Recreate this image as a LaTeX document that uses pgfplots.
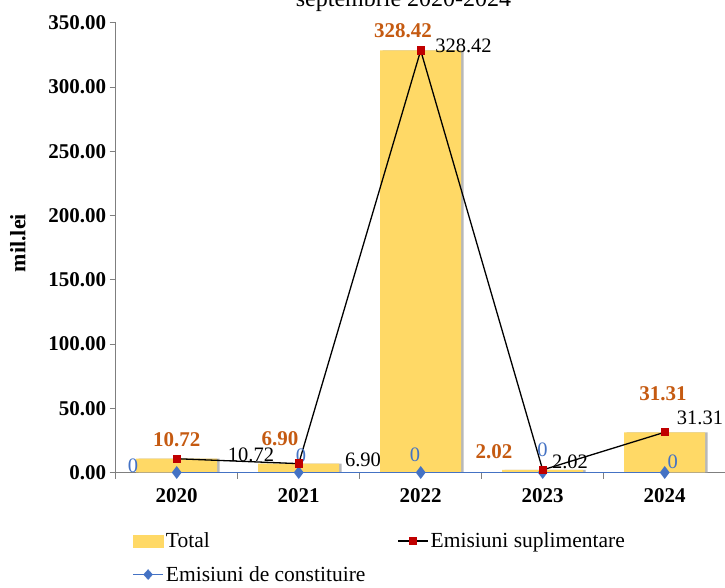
\documentclass[border=0pt]{standalone}
\usepackage{fontspec}
\setmainfont{Liberation Serif}
\usepackage{pgfplots}
\pgfplotsset{compat=1.18}
\definecolor{barfill}{HTML}{FFD966}
\definecolor{lblorange}{HTML}{C55A11}
\definecolor{suplred}{HTML}{C00000}
\definecolor{constblue}{HTML}{4472C4}
\definecolor{axgray}{HTML}{7F7F7F}
\tikzset{
  totlbl/.style={font=\fontsize{21}{25}\selectfont\bfseries, text=lblorange, inner sep=0pt},
  suplbl/.style={font=\fontsize{20.5}{24}\selectfont, text=black, inner sep=0pt},
  conlbl/.style={font=\fontsize{20.5}{24}\selectfont, text=constblue, inner sep=0pt},
}
\begin{document}
\begin{tikzpicture}
\useasboundingbox (-115.7pt,-115.5pt) rectangle (609.3pt,472.5pt);
\clip (-115.7pt,-115.5pt) rectangle (609.3pt,472.5pt);
\begin{axis}[
  at={(0pt,0pt)}, anchor=south west,
  width=610pt, height=449.8pt, scale only axis,
  xmin=-0.5, xmax=4.5, ymin=0, ymax=350,
  clip=false,
  axis x line*=bottom, axis y line*=left,
  axis line style={axgray, line width=0.8pt},
  xtick={0,...,4}, xticklabels={2020,2021,2022,2023,2024},
  major x tick style={draw=none},
  minor xtick={-0.5,0.5,1.5,2.5,3.5,4.5},
  ytick={0,50,...,350},
  tick align=outside,
  major tick length=6pt, minor tick length=6pt,
  tick style={axgray, line width=0.8pt},
  tick label style={font=\fontsize{21}{25}\selectfont\bfseries},
  yticklabel style={/pgf/number format/.cd, fixed, fixed zerofill, precision=2, assume math mode=true},
  xticklabel style={yshift=-7pt},
  ylabel={mil.lei},
  every axis y label/.style={at={(axis description cs:-0.1602,0.51)}, rotate=90, anchor=center,
    font=\fontsize{22}{26}\selectfont\bfseries},
  legend columns=2,
  legend cell align=left,
  legend style={draw=none, fill=none, at={(axis description cs:0.0218,-0.125)}, anchor=north west,
    font=\fontsize{21.5}{26}\selectfont, row sep=13pt,
    /tikz/every even column/.append style={column sep=30pt}},
]
% bar shadow
\addplot[ybar, bar width=81pt, bar shift=2.5pt, fill=black!28, draw=none, forget plot]
  coordinates {(0,10.72) (1,6.90) (2,328.42) (3,2.02) (4,31.31)};
% Total
\addplot[ybar, bar width=81pt, bar shift=0pt, fill=barfill, draw=none, forget plot]
  coordinates {(0,10.72) (1,6.90) (2,328.42) (3,2.02) (4,31.31)};
% Emisiuni de constituire
\addplot[constblue, line width=1.8pt, mark=diamond*, mark size=5pt,
  mark options={fill=constblue, draw=constblue}, forget plot]
  coordinates {(0,0) (1,0) (2,0) (3,0) (4,0)};
% Emisiuni suplimentare
\addplot[black, line width=1.3pt, mark=square*, mark size=3.5pt,
  mark options={fill=suplred, draw=suplred}, forget plot]
  coordinates {(0,10.72) (1,6.90) (2,328.42) (3,2.02) (4,31.31)};

\addlegendimage{legend image code/.code={\fill[barfill] (0pt,-6pt) rectangle (30pt,6pt);}}
\addlegendentry{Total}
\addlegendimage{legend image code/.code={
  \draw[black, line width=1.3pt] (0pt,0pt) -- (30pt,0pt);
  \fill[suplred] (11.5pt,-3.5pt) rectangle (18.5pt,3.5pt);}}
\addlegendentry{Emisiuni suplimentare}
\addlegendimage{legend image code/.code={
  \draw[constblue, line width=1.8pt] (0pt,0pt) -- (30pt,0pt);
  \fill[constblue] (15pt,-5pt) -- (19.5pt,0pt) -- (15pt,5pt) -- (10.5pt,0pt) -- cycle;}}
\addlegendentry{Emisiuni de constituire}

% data labels: Total
\node[totlbl] at (axis cs:0.000,25.5) {10.72};
\node[totlbl] at (axis cs:0.847,26.5) {6.90};
\node[totlbl] at (axis cs:1.855,344.0) {328.42};
\node[totlbl] at (axis cs:2.601,16.0) {2.02};
\node[totlbl] at (axis cs:3.986,61.5) {31.31};
% data labels: Emisiuni suplimentare
\node[suplbl] at (axis cs:0.609,13.6) {10.72};
\node[suplbl] at (axis cs:1.527,9.7) {6.90};
\node[suplbl] at (axis cs:2.351,331.9) {328.42};
\node[suplbl] at (axis cs:3.224,8.2) {2.02};
\node[suplbl] at (axis cs:4.289,42.8) {31.31};
% data labels: Emisiuni de constituire
\node[conlbl] at (axis cs:-0.358,5.1) {0};
\node[conlbl] at (axis cs:1.019,12.8) {0};
\node[conlbl] at (axis cs:1.953,13.6) {0};
\node[conlbl] at (axis cs:2.999,17.5) {0};
\node[conlbl] at (axis cs:4.066,8.6) {0};
\end{axis}
\node[anchor=base, font=\fontsize{24}{28}\selectfont] at (287.8pt,465.5pt) {septembrie 2020-2024};
\end{tikzpicture}
\end{document}
